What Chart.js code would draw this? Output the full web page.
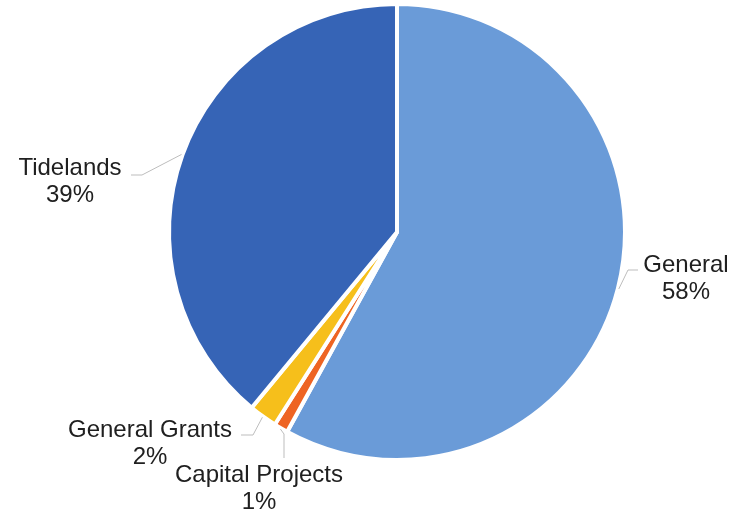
<!DOCTYPE html>
<html>
<head>
<meta charset="utf-8">
<script src="https://cdn.jsdelivr.net/npm/chart.js@4/dist/chart.umd.min.js"></script>
<style>
  html, body { margin: 0; padding: 0; background: #ffffff; }
  canvas { display: block; }
</style>
</head>
<body>
<canvas id="fundPie" width="735" height="514"></canvas>
<script>
// Fund shares, clockwise from 12 o'clock
const fundNames = ['General', 'Capital Projects', 'General Grants', 'Tidelands'];
const fundShares = [58, 1, 2, 39];
const fundColors = ['#6a9bd8', '#ee6423', '#f6bf1b', '#3664b6'];

// Label placement: text centre x, first-line baseline y, leader elbow and leader end
const labelTextX = [686, 259, 150, 70];
const labelTextY = [272, 482, 437, 175];
const leaderElbow = [[628, 270], [284, 434], [253, 435], [142, 175]];
const leaderEnd = [[638, 270], [284, 458], [241, 435], [131, 175]];

const outsideLabels = {
  id: 'outsideLabels',
  afterDatasetsDraw(chart) {
    const ctx = chart.ctx;
    const meta = chart.getDatasetMeta(0);
    const data = chart.data.datasets[0].data;
    const total = data.reduce((a, b) => a + b, 0);
    ctx.save();
    meta.data.forEach((arc, i) => {
      const p = arc.getProps(['x', 'y', 'startAngle', 'endAngle', 'outerRadius'], true);
      const mid = (p.startAngle + p.endAngle) / 2;
      const rx = p.x + Math.cos(mid) * (p.outerRadius + 1);
      const ry = p.y + Math.sin(mid) * (p.outerRadius + 1);
      ctx.beginPath();
      ctx.strokeStyle = '#bdbdbd';
      ctx.lineWidth = 1;
      ctx.moveTo(rx, ry);
      ctx.lineTo(leaderElbow[i][0], leaderElbow[i][1]);
      ctx.lineTo(leaderEnd[i][0], leaderEnd[i][1]);
      ctx.stroke();

      ctx.fillStyle = '#202020';
      ctx.font = '24px "Liberation Sans", Arial, sans-serif';
      ctx.textAlign = 'center';
      ctx.textBaseline = 'alphabetic';
      ctx.fillText(chart.data.labels[i], labelTextX[i], labelTextY[i]);
      ctx.fillText(Math.round(data[i] / total * 100) + '%', labelTextX[i], labelTextY[i] + 27);
    });
    ctx.restore();
  }
};

new Chart(document.getElementById('fundPie'), {
  type: 'pie',
  data: {
    labels: fundNames,
    datasets: [{
      data: fundShares,
      backgroundColor: fundColors,
      borderColor: '#ffffff',
      borderWidth: 4
    }]
  },
  options: {
    responsive: false,
    devicePixelRatio: 1,
    animation: false,
    radius: 228,
    layout: { padding: { left: 59, right: 0, top: 5, bottom: 55 } },
    plugins: {
      legend: { display: false },
      tooltip: { enabled: false }
    }
  },
  plugins: [outsideLabels]
});
</script>
</body>
</html>
